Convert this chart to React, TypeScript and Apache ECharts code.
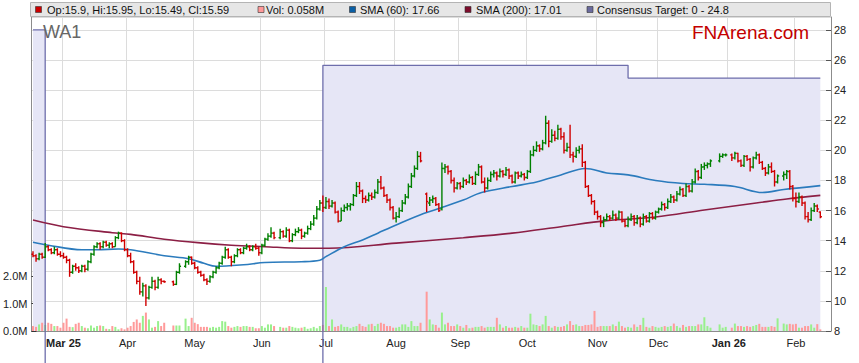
import React, { useEffect, useRef } from 'react';
import * as echarts from 'echarts';

// ---------- axis domain ----------
const startDate = '2025-02-17';
const slotCount = 262;
const monthTickLabels = ['Mar 25', 'Apr', 'May', 'Jun', 'Jul', 'Aug', 'Sep', 'Oct', 'Nov', 'Dec', 'Jan 26', 'Feb'];
const boldTickLabels = ['Mar 25', 'Jan 26'];
const priceMin = 8;
const priceMax = 28.86;
const priceStep = 2;
const volumeMax = 11.42;
const volumeTicks = [0, 1, 2];

// ---------- data: [open, high, low, close] per weekday slot (null = no trading) ----------
const ohlc: ([number, number, number, number] | null)[] = [
  [13.1, 13.3, 12.9, 13.0], [13.0, 13.1, 12.6, 12.8], [12.8, 13.2, 12.7, 13.1], [13.1, 13.2, 12.8, 12.9], [12.9, 13.85, 12.85, 13.6],
  [13.6, 13.7, 13.3, 13.4], [13.4, 13.5, 13.1, 13.2], [13.2, 13.6, 13.1, 13.4], [13.4, 13.5, 13.0, 13.1], [13.1, 13.3, 12.9, 13.0],
  [13.0, 13.2, 12.8, 12.9], [12.9, 13.0, 12.5, 12.7], [12.7, 12.8, 11.6, 11.9], [11.9, 12.4, 11.8, 12.3], [12.3, 12.5, 12.0, 12.2],
  [12.2, 12.3, 11.85, 12.0], [12.0, 12.4, 11.9, 12.3], [12.3, 12.4, 11.9, 12.1], [12.1, 12.7, 12.0, 12.6], [12.6, 13.2, 12.5, 13.1],
  [13.1, 13.7, 13.0, 13.6], [13.6, 13.9, 13.5, 13.8], [13.8, 13.9, 13.4, 13.6], [13.6, 14.0, 13.5, 13.9], [13.9, 14.0, 13.6, 13.7],
  [13.7, 13.9, 13.5, 13.8], [13.8, 13.9, 13.5, 13.6], [13.6, 14.3, 13.6, 14.2], [14.2, 14.6, 14.1, 14.5], [14.5, 14.55, 13.9, 14.0],
  [14.0, 14.1, 13.3, 13.4], [13.4, 13.5, 12.9, 13.0], [13.0, 13.2, 12.5, 12.6], [12.6, 12.7, 11.8, 11.9], [11.9, 12.0, 11.1, 11.3],
  [11.3, 11.6, 10.4, 10.6], [10.6, 11.2, 10.3, 11.0], [11.0, 11.1, 9.66, 10.2], [10.2, 11.0, 10.1, 10.9], [10.9, 11.6, 10.8, 11.3],
  [11.3, 11.4, 10.7, 10.9], [10.9, 11.6, 10.8, 11.4], [11.4, 11.5, 11.1, 11.3], [11.3, 11.35, 11.2, 11.27], null,
  null, [11.27, 11.35, 11.0, 11.1], [11.1, 12.0, 11.05, 11.9], [11.9, 12.5, 11.8, 12.3], null,
  [12.3, 12.7, 12.2, 12.6], [12.6, 13.0, 12.4, 12.9], [12.9, 12.95, 12.4, 12.5], [12.5, 12.6, 12.1, 12.2], [12.2, 12.3, 11.8, 11.9],
  [11.9, 12.0, 11.6, 11.7], [11.7, 11.8, 11.3, 11.4], [11.4, 11.5, 11.05, 11.3], [11.3, 11.7, 11.2, 11.6], [11.6, 12.0, 11.5, 11.9],
  [11.9, 12.3, 11.8, 12.2], [12.2, 12.6, 12.1, 12.5], [12.5, 13.0, 12.4, 12.9], [12.9, 13.6, 12.8, 13.4], [13.4, 13.5, 12.8, 12.9],
  [12.9, 13.0, 12.3, 12.6], [12.6, 13.1, 12.5, 13.0], [13.0, 13.5, 12.9, 13.4], [13.4, 13.5, 13.1, 13.2], [13.2, 13.6, 13.1, 13.5],
  [13.5, 13.8, 13.4, 13.6], [13.6, 13.7, 13.3, 13.4], [13.4, 13.7, 13.3, 13.6], [13.6, 13.8, 13.4, 13.5], [13.5, 13.6, 13.0, 13.2],
  [13.2, 13.8, 13.1, 13.7], [13.7, 14.2, 13.6, 14.1], [14.1, 14.5, 14.0, 14.3], [14.3, 14.9, 14.2, 14.5], [14.5, 14.6, 14.1, 14.2],
  null, [14.2, 14.8, 14.1, 14.6], [14.6, 14.7, 14.2, 14.3], [14.3, 14.9, 14.2, 14.7], [14.7, 14.8, 13.9, 14.0],
  [14.0, 14.5, 13.9, 14.4], [14.4, 14.8, 14.3, 14.6], [14.6, 14.9, 14.5, 14.7], [14.7, 14.8, 14.1, 14.3], [14.3, 14.6, 14.2, 14.5],
  [14.5, 15.0, 14.4, 14.8], [14.8, 15.3, 14.7, 15.1], [15.1, 15.7, 15.0, 15.5], [15.5, 16.3, 15.4, 16.1], [16.1, 16.7, 16.0, 16.5],
  [16.5, 17.0, 15.9, 16.2], [16.2, 16.9, 16.1, 16.6], [16.6, 16.8, 16.1, 16.3], [16.3, 16.7, 16.2, 16.5], [16.5, 16.6, 15.8, 15.9],
  [15.9, 16.0, 15.2, 15.3], [15.3, 16.2, 15.3, 16.0], [16.0, 16.4, 15.9, 16.2], [16.2, 16.5, 16.0, 16.3], [16.3, 16.5, 16.0, 16.4],
  [16.4, 17.1, 16.3, 17.0], [17.0, 17.9, 16.9, 17.6], [17.6, 17.9, 17.1, 17.3], [17.3, 17.4, 16.5, 16.8], [16.8, 17.0, 16.5, 16.7],
  [16.7, 17.2, 16.6, 17.0], [17.0, 17.2, 16.7, 16.9], [16.9, 17.4, 16.8, 17.2], [17.2, 18.1, 17.1, 17.9], [17.9, 18.3, 17.4, 17.5],
  [17.5, 17.6, 16.9, 17.0], [17.0, 17.1, 16.5, 16.7], [16.7, 16.8, 16.0, 16.2], [16.2, 16.3, 15.4, 15.5], [15.5, 15.9, 15.2, 15.6],
  [15.6, 16.2, 15.5, 16.0], [16.0, 16.7, 15.9, 16.5], [16.5, 17.1, 16.4, 16.9], [16.9, 17.8, 16.8, 17.6], [17.6, 18.5, 17.5, 18.3],
  [18.3, 19.0, 18.2, 18.8], [18.8, 19.95, 18.7, 19.6], [19.6, 19.9, 19.2, 19.3], null, [17.1, 17.2, 15.9, 16.6],
  [16.5, 16.9, 16.3, 16.7], [16.7, 17.0, 16.5, 16.8], [16.8, 16.9, 16.3, 16.4], [16.4, 16.5, 15.9, 16.0], [16.1, 19.2, 16.0, 18.8],
  [18.8, 19.1, 18.5, 18.9], [18.9, 19.0, 18.4, 18.6], [18.6, 18.7, 17.8, 18.0], [18.0, 18.2, 17.2, 17.5], [17.5, 17.9, 17.4, 17.8],
  [17.8, 17.9, 17.4, 17.6], [17.6, 18.2, 17.5, 18.0], [18.0, 18.1, 17.7, 17.9], [17.9, 18.4, 17.8, 18.2], [18.2, 18.3, 17.7, 17.8],
  [17.8, 18.6, 17.7, 18.4], [18.4, 19.1, 18.3, 18.9], [18.9, 19.0, 17.8, 17.9], [17.9, 18.2, 17.2, 17.5], [17.5, 18.2, 17.4, 18.0],
  [18.0, 18.6, 17.9, 18.4], [18.4, 18.7, 18.2, 18.5], [18.5, 18.6, 18.0, 18.3], [18.3, 18.8, 18.2, 18.6], [18.6, 18.7, 18.2, 18.4],
  [18.4, 18.9, 18.3, 18.7], [18.7, 18.8, 18.1, 18.3], [18.3, 18.4, 17.8, 17.9], [17.9, 18.6, 17.8, 18.5], [18.5, 18.6, 18.1, 18.3],
  [18.3, 18.6, 18.2, 18.4], [18.4, 18.5, 18.0, 18.2], [18.2, 18.7, 18.1, 18.6], [18.6, 20.0, 18.5, 19.7], [19.7, 20.3, 19.6, 20.0],
  [20.0, 20.6, 19.9, 20.3], [20.3, 20.4, 19.9, 20.1], [20.1, 20.7, 20.0, 20.5], [20.5, 22.3, 20.4, 21.8], [21.8, 22.0, 20.2, 20.6],
  [20.6, 21.4, 20.5, 21.0], [21.0, 21.3, 20.6, 20.8], [20.8, 21.7, 20.7, 21.4], [21.4, 21.5, 20.7, 20.9], [20.9, 21.2, 19.8, 20.0],
  [20.0, 20.5, 19.9, 20.2], [20.2, 21.7, 19.5, 19.7], [19.7, 19.9, 19.2, 19.6], [19.6, 20.2, 19.5, 20.0], [20.0, 20.3, 19.8, 20.1],
  [20.1, 20.4, 18.9, 19.2], [19.2, 19.3, 17.5, 17.6], [17.6, 17.7, 16.9, 17.0], [17.0, 17.1, 16.4, 16.6], [16.6, 16.7, 15.7, 15.9],
  [15.9, 16.0, 15.4, 15.6], [15.6, 15.7, 14.9, 15.2], [15.2, 15.6, 14.9, 15.4], [15.4, 15.8, 15.3, 15.6], [15.6, 15.7, 15.3, 15.5],
  [15.5, 16.0, 15.4, 15.7], [15.7, 15.8, 15.3, 15.5], [15.5, 16.0, 15.4, 15.9], [15.9, 15.95, 15.2, 15.3], [15.3, 15.4, 14.9, 15.0],
  [15.0, 15.6, 14.9, 15.4], [15.4, 15.8, 15.3, 15.6], [15.6, 15.7, 15.0, 15.2], [15.2, 15.7, 15.1, 15.5], [15.5, 15.6, 14.9, 15.1],
  [15.1, 15.8, 15.0, 15.6], [15.6, 15.7, 15.2, 15.3], [15.3, 15.9, 15.2, 15.8], [15.8, 15.9, 15.4, 15.5], [15.5, 16.0, 15.4, 15.9],
  [15.9, 16.2, 15.8, 16.1], [16.1, 16.6, 16.0, 16.4], [16.4, 16.5, 16.0, 16.2], [16.2, 16.8, 16.1, 16.6], [16.6, 17.1, 16.5, 16.9],
  [16.9, 17.0, 16.5, 16.7], [16.7, 17.3, 16.6, 17.1], [17.1, 17.6, 17.0, 17.4], [17.4, 17.5, 16.9, 17.0], [17.0, 17.8, 16.9, 17.6],
  [17.6, 17.7, 17.2, 17.3], [17.3, 18.1, 17.2, 17.9], [17.9, 18.8, 17.8, 18.6], [18.6, 18.7, 18.0, 18.2], [18.2, 19.1, 18.1, 18.9],
  [18.9, 19.2, 18.7, 19.0], [19.0, 19.2, 18.8, 19.1], [19.1, 19.4, 18.9, 19.3], null, null,
  [19.3, 19.8, 19.2, 19.6], [19.6, 19.8, 19.5, 19.7], [19.7, 19.8, 19.6, 19.7], null, [19.7, 19.8, 19.3, 19.5],
  [19.5, 19.9, 19.4, 19.8], [19.8, 19.85, 19.2, 19.3], [19.3, 19.4, 18.9, 19.0], [19.0, 19.7, 18.9, 19.6], [19.6, 19.7, 19.3, 19.4],
  [19.4, 19.5, 18.6, 18.9], [18.9, 19.6, 18.8, 19.5], [19.5, 19.9, 19.4, 19.7], [19.7, 19.8, 19.1, 19.2], [19.2, 19.3, 18.7, 18.8],
  [18.8, 18.9, 18.3, 18.5], [18.5, 19.1, 18.4, 18.9], [18.9, 19.2, 18.5, 18.6], [18.6, 18.7, 17.6, 17.9], [17.9, 18.4, 17.8, 18.3],
  null, [18.3, 18.6, 18.0, 18.4], [18.4, 18.7, 18.1, 18.6], [18.6, 18.7, 17.4, 17.6], [17.6, 17.7, 16.6, 16.8],
  [16.8, 17.2, 16.2, 16.6], [16.6, 17.2, 16.5, 16.9], [16.9, 17.0, 16.3, 16.5], [16.5, 16.6, 15.4, 15.6], [15.6, 15.9, 15.2, 15.4],
  [15.4, 16.2, 15.3, 16.0], [16.0, 16.5, 15.9, 16.3], [16.3, 16.4, 15.9, 16.1], [15.9, 15.95, 15.49, 15.59],
];

// volume in millions per weekday slot
const volumeM: (number | null)[] = [
  0.18, 0.15, 0.24, 0.30, 0.22, 0.30, 0.26, 0.18, 0.18, 0.12,
  0.30, 0.45, 0.15, 0.14, 0.26, 0.30, 0.18, 0.12, 0.10, 0.20,
  0.12, 0.18, 0.20, 0.18, 0.08, 0.07, 0.18, 0.15, 0.06, 0.10,
  0.06, 0.12, 0.18, 0.33, 0.42, 0.30, 0.55, 0.67, 0.42, 0.12,
  0.15, 0.36, 0.18, 0.30, null, null, 0.20, 0.20, 0.20, null,
  0.45, 0.18, 0.48, 0.30, 0.25, 0.15, 0.15, 0.15, 0.12, 0.15,
  0.12, 0.15, 0.36, 0.34, 0.18, 0.12, 0.15, 0.18, 0.15, 0.18,
  0.18, 0.15, 0.15, 0.10, 0.10, 0.18, 0.12, 0.24, 0.24, 0.18,
  null, 0.15, 0.12, 0.12, 0.18, 0.15, 0.12, 0.10, 0.12, 0.15,
  0.08, 0.10, 0.15, 0.10, 0.18, 0.22, 1.60, 0.18, 0.42, 0.15,
  0.18, 0.24, 0.15, 0.15, 0.10, 0.15, 0.18, 0.26, 0.18, 0.15,
  0.24, 0.26, 0.18, 0.26, 0.30, 0.26, 0.18, 0.18, 0.12, 0.12,
  0.15, 0.24, 0.24, 0.15, 0.36, 0.18, 0.18, 0.30, null, 1.43,
  0.42, 0.24, 0.22, 0.12, 0.67, 0.24, 0.30, 0.18, 0.18, 0.24,
  0.18, 0.12, 0.22, 0.10, 0.12, 0.15, 0.15, 0.18, 0.12, 0.15,
  0.15, 0.15, 0.48, 0.24, 0.12, 0.18, 0.12, 0.12, 0.15, 0.12,
  0.18, 0.12, 0.12, 0.63, 0.24, 0.22, 0.18, 0.24, 0.55, 0.18,
  0.12, 0.18, 0.15, 0.15, 0.18, 0.24, 0.36, 0.22, 0.24, 0.18,
  0.18, 0.22, 0.22, 0.24, 0.73, 0.15, 0.18, 0.18, 0.18, 0.18,
  0.24, 0.18, 0.34, 0.18, 0.12, 0.15, 0.12, 0.24, 0.15, 0.22,
  0.48, 0.15, 0.12, 0.18, 0.15, 0.12, 0.15, 0.18, 0.15, 0.18,
  0.27, 0.18, 0.12, 0.22, 0.15, 0.18, 0.18, 0.18, 0.24, 0.24,
  0.50, 0.18, 0.12, null, null, 0.24, 0.12, 0.15, null, 0.12,
  0.27, 0.18, 0.18, 0.15, 0.18, 0.15, 0.18, 0.22, 0.26, 0.15,
  0.15, 0.15, 0.18, 0.15, 0.46, null, 0.27, 0.24, 0.26, 0.24,
  0.26, 0.12, 0.12, 0.18, 0.18, 0.24, 0.12, 0.25, 0.058,
];

// moving averages: [slot index, value]
const sma60Points: [number, number][] = [
  [0, 13.9], [5, 13.7], [16, 13.4], [21, 13.4], [28, 13.45], [32, 13.4], [43, 13.0], [51, 12.8],
  [56, 12.5], [60, 12.3], [69, 12.4], [76, 12.55], [88, 12.6], [94, 12.7], [96, 12.94], [102, 13.6],
  [108, 14.05], [113, 14.5], [119, 15.04], [128, 15.8], [134, 16.2], [141, 16.7], [147, 17.2],
  [157, 17.6], [165, 17.9], [173, 18.37], [181, 18.8], [188, 18.5], [195, 18.37], [204, 18.0],
  [213, 17.8], [220, 17.75], [230, 17.6], [239, 17.2], [246, 17.4], [258, 17.66],
];
const sma200Points: [number, number][] = [
  [0, 15.37], [10, 14.93], [26, 14.53], [32, 14.42], [43, 14.1], [54, 13.87], [65, 13.7], [76, 13.6],
  [88, 13.5], [97, 13.5], [119, 13.84], [141, 14.2], [157, 14.5], [173, 14.93], [188, 15.33],
  [204, 15.57], [220, 16.04], [237, 16.5], [247, 16.77], [258, 17.01],
];
// consensus target steps: [slot index, value]
const consensusPoints: [number, number][] = [[0, 28], [4, 0], [95, 25.65], [195, 24.8], [258, 24.8]];

// ---------- colours ----------
const UP = '#008000';
const DOWN = '#d00000';
const VOL_UP = '#98f08c';
const VOL_DOWN = '#ff9a9a';
const SMA60_C = '#2b7bbd';
const SMA200_C = '#8c1f45';
const CONS_LINE = '#6e6eac';
const CONS_FILL = '#e6e6f6';
const GRID_C = '#dcdcdc';
const AXIS_C = '#8c8c8c';
const FONT = '"Liberation Sans", Arial, sans-serif';

function weekdaySlots(start: string, n: number): string[] {
  const out: string[] = [];
  const d = new Date(start + 'T00:00:00Z');
  while (out.length < n) {
    const wd = d.getUTCDay();
    if (wd !== 0 && wd !== 6) out.push(d.toISOString().slice(0, 10));
    d.setUTCDate(d.getUTCDate() + 1);
  }
  return out;
}

export default function App() {
  const ref = useRef<HTMLDivElement>(null);
  useEffect(() => {
    if (!ref.current) return;
    const chart = echarts.init(ref.current, undefined, { renderer: 'svg' });

    const cats = weekdaySlots(startDate, slotCount);
    const labelAt = new Map<number, string>();
    let m = 0;
    for (let i = 1; i < cats.length; i++) {
      if (cats[i].slice(0, 7) !== cats[i - 1].slice(0, 7)) {
        labelAt.set(i, monthTickLabels[m] ?? '');
        m++;
      }
    }

    const ohlcData: number[][] = [];
    ohlc.forEach((b, i) => { if (b) ohlcData.push([i, b[0], b[1], b[2], b[3]]); });
    const volData = volumeM.map((v, i) => {
      const b = ohlc[i];
      if (v == null || !b) return '-';
      return { value: v, itemStyle: { color: b[3] >= b[0] ? VOL_UP : VOL_DOWN } };
    });

    const last = ohlc[ohlc.length - 1] as number[];
    const lastVol = volumeM[volumeM.length - 1];
    const consVals = consensusPoints.map((p) => p[1]);
    const legendItems = [
      { x: 35.5, tx: 47, color: '#cc0000', text: `Op:${last[0]}, Hi:${last[1]}, Lo:${last[2]}, Cl:${last[3]}` },
      { x: 258, tx: 266, color: '#ff9999', text: `Vol: ${lastVol}M` },
      { x: 349.5, tx: 360, color: '#0a5fa5', text: `SMA (60): ${sma60Points[sma60Points.length - 1][1]}` },
      { x: 465, tx: 476, color: '#7d0c2c', text: `SMA (200): ${sma200Points[sma200Points.length - 1][1]}` },
      { x: 587, tx: 597, color: '#6b6b9e', text: `Consensus Target: ${Math.min(...consVals)} - ${consVals[consVals.length - 1]}` },
    ];
    const graphic: any[] = [
      { type: 'rect', z: 10, shape: { x: 30.5, y: 2.5, width: 800, height: 14 }, style: { fill: '#e6e6e6', stroke: '#b4b4b4', lineWidth: 1 } },
    ];
    legendItems.forEach((it) => {
      graphic.push({ type: 'rect', z: 11, shape: { x: it.x, y: 6.5, width: 6, height: 6 }, style: { fill: it.color, stroke: '#333', lineWidth: 0.6 } });
      graphic.push({ type: 'text', z: 11, style: { text: it.text, x: it.tx, y: 10, font: `11px ${FONT}`, fill: '#111', textVerticalAlign: 'middle' } });
    });
    graphic.push({ type: 'text', z: 11, style: { text: 'WA1', x: 43, y: 32, font: `18px ${FONT}`, fill: '#666', textVerticalAlign: 'middle' } });
    graphic.push({ type: 'text', z: 11, style: { text: 'FNArena.com', x: 692, y: 32, font: `19px ${FONT}`, fill: '#c40000', textVerticalAlign: 'middle' } });

    const option: any = {
      animation: false,
      backgroundColor: '#fff',
      textStyle: { fontFamily: FONT },
      grid: { left: 31, right: 28, top: 17, bottom: 32, containLabel: false },
      xAxis: {
        type: 'category',
        data: cats,
        boundaryGap: true,
        axisLine: { show: true, lineStyle: { color: AXIS_C } },
        axisTick: { show: false },
        axisLabel: {
          interval: (i: number) => labelAt.has(i),
          formatter: (_v: string, i: number) => {
            const t = labelAt.get(i) ?? '';
            return boldTickLabels.includes(t) ? `{b|${t}}` : t;
          },
          fontSize: 11,
          color: '#222',
          margin: 6,
          fontFamily: FONT,
          rich: { b: { fontWeight: 'bold', fontSize: 11, color: '#222', fontFamily: FONT } },
        },
        splitLine: { show: true, interval: (i: number) => labelAt.has(i), lineStyle: { color: GRID_C, width: 1 } },
      },
      yAxis: [
        {
          type: 'value',
          position: 'right',
          min: priceMin,
          max: priceMax,
          interval: priceStep,
          axisLine: { show: true, lineStyle: { color: AXIS_C } },
          axisTick: { show: true, inside: true, length: 5, lineStyle: { color: '#555' } },
          axisLabel: { showMaxLabel: false, fontSize: 11, color: '#222', margin: 3, fontFamily: FONT },
          splitLine: { show: true, lineStyle: { color: GRID_C, width: 1 } },
        },
        {
          type: 'value',
          position: 'left',
          min: 0,
          max: volumeMax,
          interval: 1,
          axisLine: { show: true, lineStyle: { color: AXIS_C } },
          axisTick: { show: true, inside: true, length: 5, customValues: volumeTicks, lineStyle: { color: '#333' } },
          axisLabel: {
            customValues: volumeTicks,
            formatter: (v: number) => (v <= 2 ? v.toFixed(1) + 'M' : ''),
            fontSize: 11,
            color: '#222',
            margin: 4,
            fontFamily: FONT,
          },
          splitLine: { show: false },
        },
      ],
      graphic,
      series: [
        {
          name: 'consensusFill',
          type: 'line',
          yAxisIndex: 0,
          data: consensusPoints,
          step: 'end',
          symbol: 'none',
          clip: true,
          lineStyle: { width: 0, opacity: 0 },
          areaStyle: { color: CONS_FILL, opacity: 1 },
          z: 1,
          silent: true,
        },
        {
          name: 'Volume',
          type: 'bar',
          yAxisIndex: 1,
          data: volData,
          barWidth: 2,
          z: 2,
          silent: true,
        },
        {
          name: 'consensusLine',
          type: 'line',
          yAxisIndex: 0,
          data: consensusPoints,
          step: 'end',
          symbol: 'none',
          clip: false,
          lineStyle: { color: CONS_LINE, width: 1.3 },
          z: 3,
          silent: true,
        },
        {
          name: 'SMA200',
          type: 'line',
          yAxisIndex: 0,
          data: sma200Points,
          smooth: 0.35,
          symbol: 'none',
          lineStyle: { color: SMA200_C, width: 1.6 },
          z: 4,
          silent: true,
        },
        {
          name: 'SMA60',
          type: 'line',
          yAxisIndex: 0,
          data: sma60Points,
          smooth: 0.35,
          symbol: 'none',
          lineStyle: { color: SMA60_C, width: 1.6 },
          z: 4,
          silent: true,
        },
        {
          name: 'OHLC',
          type: 'custom',
          yAxisIndex: 0,
          data: ohlcData,
          encode: { x: 0, y: [1, 2, 3, 4] },
          z: 5,
          silent: true,
          renderItem: (_params: any, api: any) => {
            const i = api.value(0);
            const o = api.value(1), h = api.value(2), l = api.value(3), c = api.value(4);
            const pO = api.coord([i, o]);
            const pH = api.coord([i, h]);
            const pL = api.coord([i, l]);
            const pC = api.coord([i, c]);
            const x = pO[0];
            const color = c >= o ? UP : DOWN;
            const st = { stroke: color, lineWidth: 1.4 };
            return {
              type: 'group',
              children: [
                { type: 'line', shape: { x1: x, y1: pH[1], x2: x, y2: pL[1] }, style: st },
                { type: 'line', shape: { x1: x - 1.6, y1: pO[1], x2: x, y2: pO[1] }, style: st },
                { type: 'line', shape: { x1: x, y1: pC[1], x2: x + 1.6, y2: pC[1] }, style: st },
              ],
            };
          },
        },
      ],
    };
    chart.setOption(option);
    return () => chart.dispose();
  }, []);

  return <div ref={ref} style={{ position: 'fixed', left: 0, top: 0, width: 859, height: 363 }} />;
}
